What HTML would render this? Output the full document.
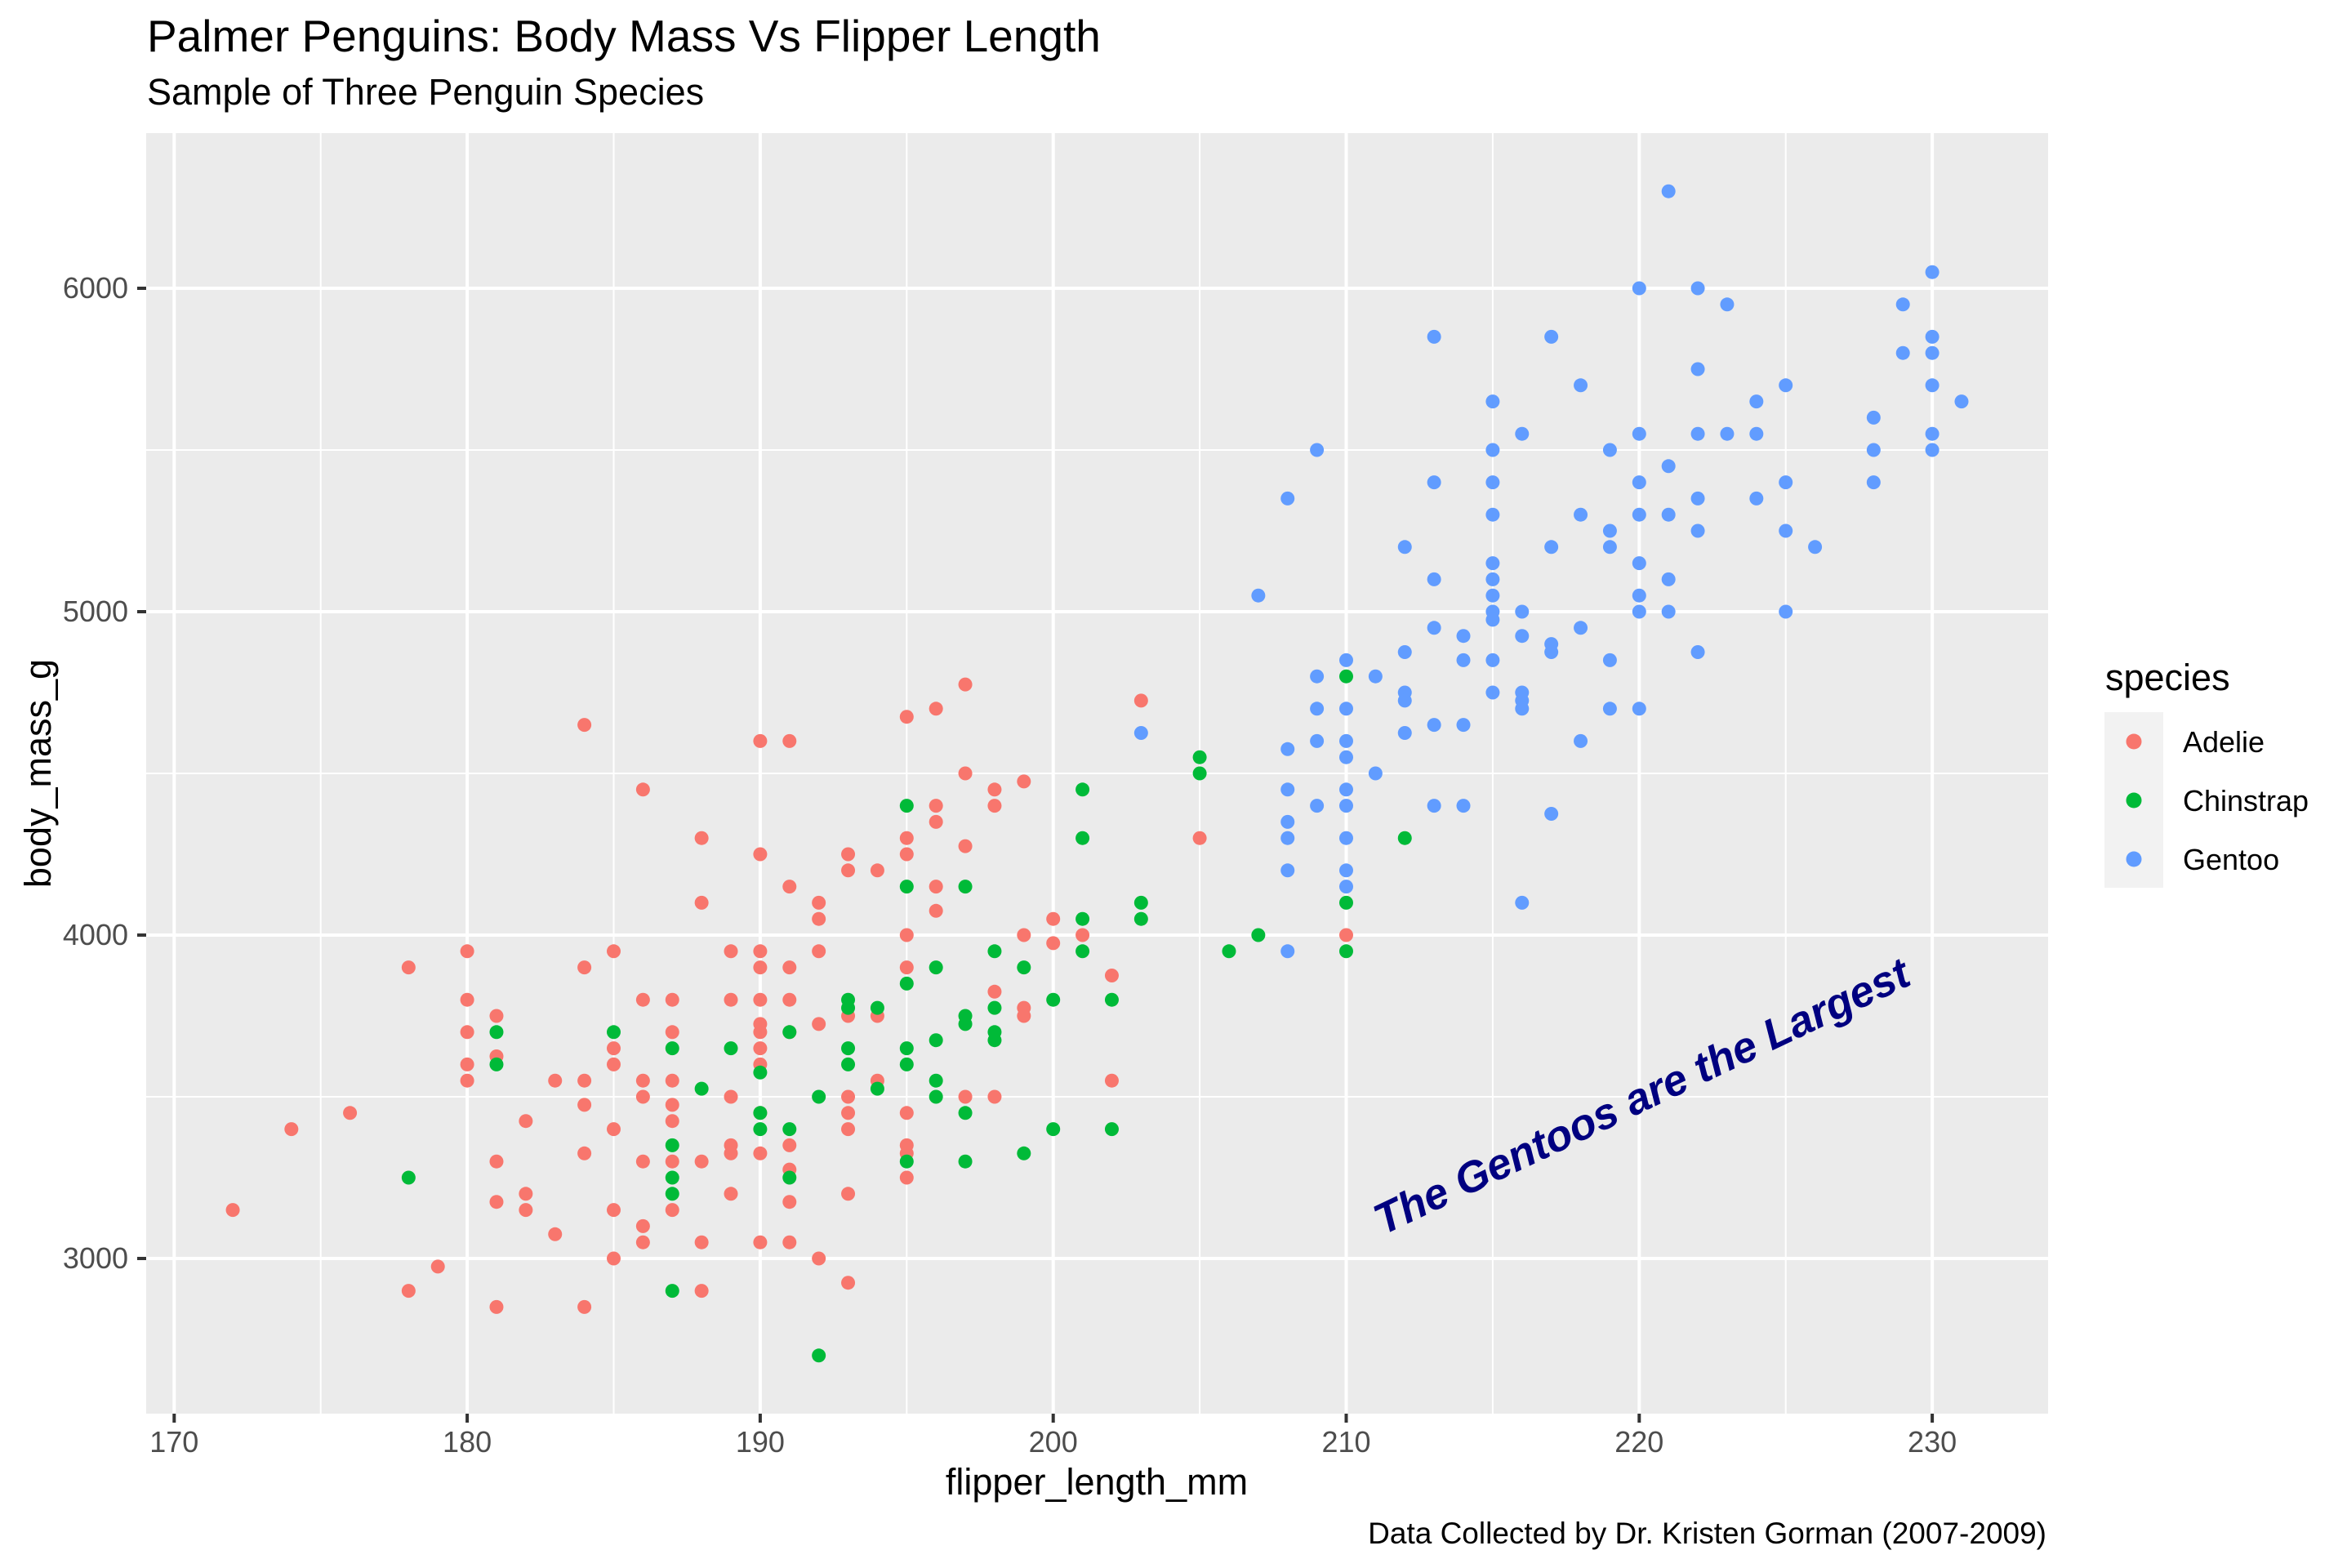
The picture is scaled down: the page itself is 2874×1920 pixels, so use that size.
<!DOCTYPE html>
<html><head><meta charset="utf-8"><style>
html,body{margin:0;padding:0;background:#fff}
svg{display:block}
text{font-family:"Liberation Sans",Arial,sans-serif}
</style></head><body>
<svg id="s" width="2874" height="1920" viewBox="0 0 2874 1920" xmlns="http://www.w3.org/2000/svg">
<rect x="0" y="0" width="2874" height="1920" fill="#fff"/>
<text x="180" y="63" font-size="55" fill="#000">Palmer Penguins: Body Mass Vs Flipper Length</text>
<text x="180" y="128" font-size="45" fill="#000">Sample of Three Penguin Species</text>
<rect x="179" y="163" width="2329" height="1568" fill="#ebebeb"/>
<g id="grid"></g>
<g id="pts"></g>
<text transform="translate(2012,1346) rotate(-25.4)" text-anchor="middle" font-size="53" font-weight="bold" font-style="italic" fill="#000080" dominant-baseline="middle">The Gentoos are the Largest</text>
<g id="ticks" font-size="36" fill="#4d4d4d"></g>
<text x="1343" y="1830" font-size="45" text-anchor="middle">flipper_length_mm</text>
<text transform="translate(62,947) rotate(-90)" font-size="45" text-anchor="middle">body_mass_g</text>
<text x="2506" y="1890" font-size="37" text-anchor="end">Data Collected by Dr. Kristen Gorman (2007-2009)</text>
<text x="2578" y="845" font-size="45">species</text>
<rect x="2577" y="872" width="72" height="215" fill="#f2f2f2"/>
<circle cx="2613" cy="908" r="9.5" fill="#F8766D"/>
<circle cx="2613" cy="980" r="9.5" fill="#00BA38"/>
<circle cx="2613" cy="1052" r="9.5" fill="#619CFF"/>
<text x="2673" y="921" font-size="36">Adelie</text>
<text x="2673" y="993" font-size="36">Chinstrap</text>
<text x="2673" y="1065" font-size="36">Gentoo</text>
</svg>
<script>
const NS="http://www.w3.org/2000/svg";
const X=v=>213.3+(v-170)*35.88, Y=v=>1541-(v-3000)*0.396;
const g=document.getElementById('grid'),t=document.getElementById('ticks'),p=document.getElementById('pts');
function el(par,tag,a,txt){const e=document.createElementNS(NS,tag);for(const k in a)e.setAttribute(k,a[k]);if(txt!==undefined)e.textContent=txt;par.appendChild(e);return e;}
for(let v=175;v<=225;v+=10)el(g,'line',{x1:X(v),x2:X(v),y1:163,y2:1731,stroke:'#fff','stroke-width':2});
for(let v=3500;v<=6500;v+=1000)el(g,'line',{x1:179,x2:2508,y1:Y(v),y2:Y(v),stroke:'#fff','stroke-width':2});
for(let v=170;v<=230;v+=10){el(g,'line',{x1:X(v),x2:X(v),y1:163,y2:1731,stroke:'#fff','stroke-width':4});
 el(g,'line',{x1:X(v),x2:X(v),y1:1731,y2:1742,stroke:'#333','stroke-width':4});
 el(t,'text',{x:X(v),y:1778,'text-anchor':'middle'},v);}
for(let v=3000;v<=6000;v+=1000){el(g,'line',{x1:179,x2:2508,y1:Y(v),y2:Y(v),stroke:'#fff','stroke-width':4});
 el(g,'line',{x1:168,x2:179,y1:Y(v),y2:Y(v),stroke:'#333','stroke-width':4});
 el(t,'text',{x:157,y:Y(v)+12,'text-anchor':'end'},v);}
const A="172,3150;174,3400;176,3450;178,3900;178,2900;179,2975;180,3950;180,3800;180,3700;180,3600;180,3550;181,3750;181,3625;181,3300;181,3175;181,2850;182,3425;182,3200;182,3150;183,3550;183,3075;184,4650;184,3900;184,3550;184,3475;184,3325;184,2850;185,3950;185,3650;185,3600;185,3400;185,3150;185,3000;186,4450;186,3800;186,3550;186,3500;186,3300;186,3100;186,3050;187,3800;187,3700;187,3550;187,3475;187,3425;187,3300;187,3150;188,4300;188,4100;188,3300;188,3050;188,2900;189,3950;189,3800;189,3500;189,3350;189,3325;189,3200;190,4600;190,4250;190,3950;190,3900;190,3800;190,3725;190,3700;190,3650;190,3600;190,3450;190,3325;190,3050;191,4600;191,4150;191,3900;191,3800;191,3700;191,3350;191,3275;191,3175;191,3050;192,4100;192,4050;192,3950;192,3725;192,3000;193,4250;193,4200;193,3750;193,3500;193,3450;193,3400;193,3200;193,2925;194,4200;194,3750;194,3550;195,4675;195,4300;195,4250;195,4000;195,3900;195,3450;195,3350;195,3325;195,3250;196,4700;196,4400;196,4350;196,4150;196,4075;197,4775;197,4500;197,4275;197,3500;198,4450;198,4400;198,3825;198,3500;199,4475;199,4000;199,3775;199,3750;200,4050;200,3975;201,4000;202,3875;202,3550;203,4725;205,4300;210,4000";
const C="178,3250;181,3700;181,3600;185,3700;187,3650;187,3350;187,3250;187,3200;187,2900;188,3525;189,3650;190,3575;190,3450;190,3400;191,3700;191,3400;191,3250;192,3500;192,2700;193,3800;193,3775;193,3650;193,3600;194,3775;194,3525;195,4400;195,4150;195,3850;195,3650;195,3600;195,3300;196,3900;196,3675;196,3550;196,3500;197,4150;197,3750;197,3725;197,3450;197,3300;198,3950;198,3775;198,3700;198,3675;199,3900;199,3325;200,3800;200,3400;201,4450;201,4300;201,4050;201,3950;202,3800;202,3400;203,4100;203,4050;205,4550;205,4500;206,3950;207,4000;210,4800;210,4100;210,3950;212,4300";
const G="203,4625;207,5050;208,5350;208,4575;208,4450;208,4350;208,4300;208,4200;208,3950;209,5500;209,4800;209,4700;209,4600;209,4400;210,4850;210,4700;210,4600;210,4550;210,4450;210,4400;210,4300;210,4200;210,4150;211,4800;211,4500;212,5200;212,4875;212,4750;212,4725;212,4625;213,5850;213,5400;213,5100;213,4950;213,4650;213,4400;214,4925;214,4850;214,4650;214,4400;215,5650;215,5500;215,5400;215,5300;215,5150;215,5100;215,5050;215,5000;215,4975;215,4850;215,4750;216,5550;216,5000;216,4925;216,4750;216,4725;216,4700;216,4100;217,5850;217,5200;217,4900;217,4875;217,4375;218,5700;218,5300;218,4950;218,4600;219,5500;219,5250;219,5200;219,4850;219,4700;220,6000;220,5550;220,5400;220,5300;220,5150;220,5050;220,5000;220,4700;221,6300;221,5450;221,5300;221,5100;221,5000;222,6000;222,5750;222,5550;222,5350;222,5250;222,4875;223,5950;223,5550;224,5650;224,5550;224,5350;225,5700;225,5400;225,5250;225,5000;226,5200;228,5600;228,5500;228,5400;229,5950;229,5800;230,6050;230,5850;230,5800;230,5700;230,5550;230,5500;231,5650";
[[A,'#F8766D'],[C,'#00BA38'],[G,'#619CFF']].forEach(([s,c])=>s.split(';').forEach(q=>{const [a,b]=q.split(',').map(Number);el(p,'circle',{cx:X(a),cy:Y(b),r:8.5,fill:c});}));
</script>
</body></html>
